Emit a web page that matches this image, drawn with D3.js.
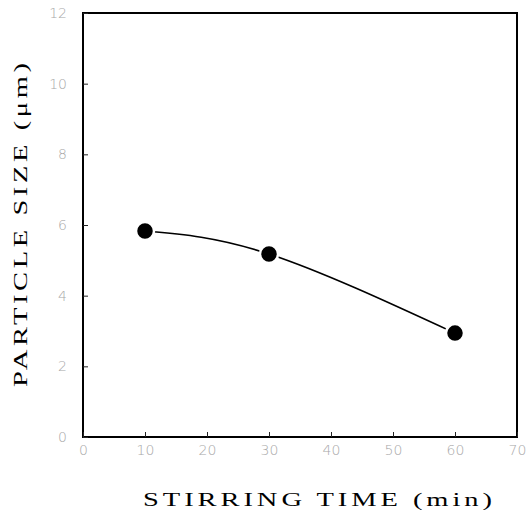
<!DOCTYPE html>
<head>
  <meta charset="utf-8">
  <style>
    body { margin: 0; background: #fff; }
    svg .tick line { stroke: #222; stroke-width: 1px; }
    svg .tick text { font: 14px "DejaVu Sans"; font-weight: 300; fill: #a8a8a8; }
    svg .title { font-family: "Liberation Serif", "DejaVu Serif", serif; font-size: 19px; fill: black; }
  </style>
</head>
<body>
<script src="https://d3js.org/d3.v7.min.js"></script>
<script>
  // stirring time (min) vs particle size (um)
  var stirTime = [10, 30, 60];
  var particleSize = [5.83, 5.18, 2.94];
  var xTicks = [0, 10, 20, 30, 40, 50, 60, 70];
  var yTicks = [0, 2, 4, 6, 8, 10, 12];

  var W = 527, H = 520;
  var pad = { left: 83, right: 517, top: 13, bottom: 437 };
  var stretch = 1.5;  // titles are set in a wide face in the original

  var svg = d3.select("body").append("svg")
      .attr("width", W)
      .attr("height", H);

  var x = d3.scaleLinear().domain([0, 70]).range([pad.left, pad.right]);
  var y = d3.scaleLinear().domain([0, 12]).range([pad.bottom, pad.top]);

  // frame
  svg.append("rect")
      .attr("x", pad.left).attr("y", pad.top)
      .attr("width", pad.right - pad.left).attr("height", pad.bottom - pad.top)
      .style("fill", "none").style("stroke", "black").style("stroke-width", "2px");

  // x axis, ticks pointing inward
  svg.append("g")
      .attr("transform", "translate(0," + pad.bottom + ")")
      .call(d3.axisBottom(x).tickValues(xTicks).tickSize(-5).tickPadding(8).tickSizeOuter(0))
      .call(function (g) { g.select(".domain").remove(); });

  // y axis
  svg.append("g")
      .attr("transform", "translate(" + pad.left + ",0)")
      .call(d3.axisLeft(y).tickValues(yTicks).tickSize(-5).tickPadding(16).tickSizeOuter(0))
      .call(function (g) { g.select(".domain").remove(); });

  var pts = stirTime.map(function (t, i) { return [t, particleSize[i]]; });

  var line = d3.line()
      .x(function (d) { return x(d[0]); })
      .y(function (d) { return y(d[1]); })
      .curve(d3.curveNatural);

  svg.append("path")
      .attr("d", line(pts))
      .style("fill", "none")
      .style("stroke", "black")
      .style("stroke-width", "1.6px");

  svg.selectAll("circle.pt")
    .data(pts)
    .enter().append("circle")
      .attr("class", "pt")
      .attr("cx", function (d) { return x(d[0]); })
      .attr("cy", function (d) { return y(d[1]); })
      .attr("r", 9)
      .style("fill", "black")
      .style("stroke", "white")
      .style("stroke-width", "2.5px");

  // axis titles
  svg.append("g")
      .attr("transform", "translate(143,506) scale(" + stretch + ",1)")
    .append("text")
      .attr("class", "title")
      .attr("textLength", 349 / stretch)
      .attr("lengthAdjust", "spacing")
      .text("STIRRING TIME (min)");

  svg.append("g")
      .attr("transform", "translate(27,387) rotate(-90) scale(" + stretch + ",1)")
    .append("text")
      .attr("class", "title")
      .attr("textLength", 324 / stretch)
      .attr("lengthAdjust", "spacing")
      .text("PARTICLE SIZE (\u03bcm)");
</script>
</body>
</html>
